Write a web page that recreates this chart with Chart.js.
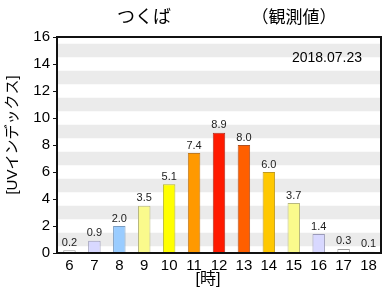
<!DOCTYPE html>
<html>
<head>
<meta charset="utf-8">
<script src="https://cdn.jsdelivr.net/npm/chart.js@4.4.1/dist/chart.umd.min.js"></script>
<style>
  html, body { margin: 0; padding: 0; background: #fff; }
  #wrap { width: 388px; height: 300px; }
</style>
</head>
<body>
<div id="wrap"><canvas id="uvChart"></canvas></div>
<script>
// data
const hours = ['6', '7', '8', '9', '10', '11', '12', '13', '14', '15', '16', '17', '18'];
const uvValues = [0.2, 0.9, 2.0, 3.5, 5.1, 7.4, 8.9, 8.0, 6.0, 3.7, 1.4, 0.3, 0.1];
const yMin = 0, yMax = 16;
const placeName = 'つくば';
const dataKind = '（観測値）';
const obsDate = '2018.07.23';
const yTitle = '[UVインデックス]';
const xTitle = '[時]';

// bar colours (by bar)
const barFill = ['#ffffff', '#d8d8ff', '#99ccff', '#fafa8c', '#ffff00', '#ff9900', '#ff1a00',
                 '#ff5f00', '#ffc800', '#fafa8c', '#d8d8ff', '#ffffff', '#ffffff'];
const barEdge = ['#999999', '#9a9ab8', '#7a9cc0', '#b8b880', '#b8b830', '#c07a20', '#b03020',
                 '#b05020', '#c09a20', '#b8b880', '#9a9ab8', '#999999', '#999999'];

const FONT = "'Liberation Sans', 'Noto Sans CJK JP', sans-serif";
Chart.defaults.font.family = FONT;
Chart.defaults.color = '#000';

// grey bands centred on the odd values, frame, value labels, titles
const decor = {
    id: 'decor',
    beforeDatasetsDraw(chart) {
        const { ctx, chartArea: a, scales: { y } } = chart;
        ctx.save();
        ctx.fillStyle = '#ebebeb';
        for (let v = yMin + 1; v < yMax; v += 2) {
            const top = y.getPixelForValue(v + 0.5), bot = y.getPixelForValue(v - 0.5);
            ctx.fillRect(a.left, top, a.right - a.left, bot - top);
        }
        ctx.restore();
    },
    afterDatasetsDraw(chart) {
        const { ctx, chartArea: a } = chart;
        ctx.save();
        ctx.strokeStyle = '#111';
        ctx.lineWidth = 2;
        ctx.strokeRect(a.left, a.top, a.right - a.left, a.bottom - a.top);

        // value labels above bars
        ctx.fillStyle = '#222';
        ctx.font = '11px ' + FONT;
        ctx.textAlign = 'center';
        ctx.textBaseline = 'bottom';
        chart.getDatasetMeta(0).data.forEach((bar, i) => {
            ctx.fillText(uvValues[i].toFixed(1), bar.x, bar.y - 2);
        });

        // titles
        ctx.fillStyle = '#000';
        ctx.textBaseline = 'middle';
        ctx.font = '18px ' + FONT;
        ctx.fillText(placeName, 144, 18);
        ctx.font = '17px ' + FONT;
        ctx.fillText(dataKind, 294, 18);
        ctx.font = '14px ' + FONT;
        ctx.textAlign = 'right';
        ctx.fillText(obsDate, 362, 58);
        ctx.textAlign = 'center';
        ctx.font = '16px ' + FONT;
        ctx.fillText(xTitle, 208, 280);
        ctx.translate(13, 135);
        ctx.rotate(-Math.PI / 2);
        ctx.font = '15px ' + FONT;
        ctx.fillText(yTitle, 0, 0);
        ctx.restore();
    }
};

new Chart(document.getElementById('uvChart'), {
    type: 'bar',
    data: {
        labels: hours,
        datasets: [{
            data: uvValues,
            backgroundColor: barFill,
            borderColor: barEdge,
            borderWidth: 1,
            barPercentage: 0.5,
            categoryPercentage: 1.0
        }]
    },
    options: {
        responsive: true,
        maintainAspectRatio: false,
        animation: false,
        layout: { padding: { top: 37, right: 7, left: 0, bottom: 0 } },
        plugins: { legend: { display: false }, tooltip: { enabled: false } },
        scales: {
            x: {
                grid: { display: false, drawTicks: false },
                border: { display: false },
                ticks: { font: { size: 15 }, padding: 4, maxRotation: 0 },
                afterFit(s) { s.height = 47; }
            },
            y: {
                min: yMin, max: yMax,
                grid: { drawOnChartArea: false, drawTicks: true, tickLength: 4, color: '#111' },
                border: { display: false },
                ticks: {
                    stepSize: 1,
                    font: { size: 15 },
                    padding: 3,
                    callback: v => (v % 2 === 0 ? String(v) : '')
                },
                afterFit(s) { s.width = 57; }
            }
        }
    },
    plugins: [decor]
});
</script>
</body>
</html>
